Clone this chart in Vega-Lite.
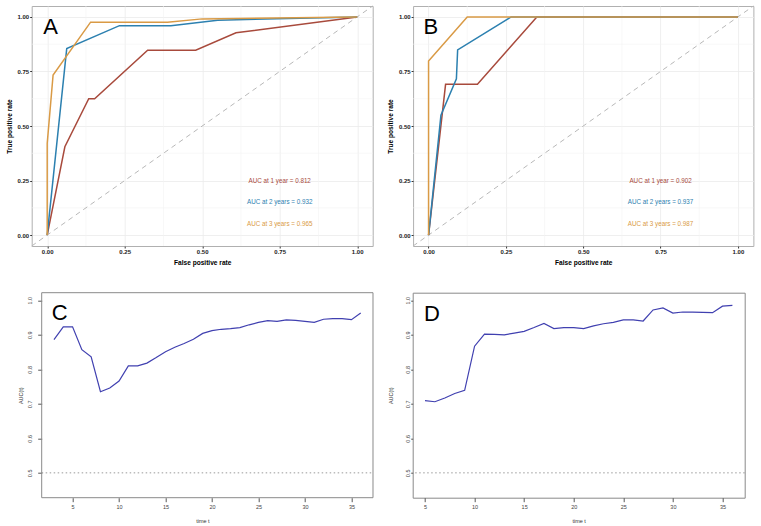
{
  "$schema": "https://vega.github.io/schema/vega-lite/v6.json",
  "padding": {"left": 4.7, "top": 5, "right": 0, "bottom": 0},
  "background": "white",
  "config": {"font": "Liberation Sans", "view": {"stroke": "#b0b0b0", "strokeWidth": 1}},
  "datasets": {
    "rocA": [
      {"s": "1 year", "i": 0, "fpr": 0, "tpr": 0},
      {"s": "1 year", "i": 1, "fpr": 0.057, "tpr": 0.405},
      {"s": "1 year", "i": 2, "fpr": 0.134, "tpr": 0.625},
      {"s": "1 year", "i": 3, "fpr": 0.153, "tpr": 0.625},
      {"s": "1 year", "i": 4, "fpr": 0.324, "tpr": 0.847},
      {"s": "1 year", "i": 5, "fpr": 0.479, "tpr": 0.847},
      {"s": "1 year", "i": 6, "fpr": 0.609, "tpr": 0.927},
      {"s": "1 year", "i": 7, "fpr": 1, "tpr": 1},
      {"s": "2 years", "i": 0, "fpr": 0, "tpr": 0},
      {"s": "2 years", "i": 1, "fpr": 0.063, "tpr": 0.855},
      {"s": "2 years", "i": 2, "fpr": 0.233, "tpr": 0.96},
      {"s": "2 years", "i": 3, "fpr": 0.399, "tpr": 0.96},
      {"s": "2 years", "i": 4, "fpr": 0.55, "tpr": 0.985},
      {"s": "2 years", "i": 5, "fpr": 1, "tpr": 1},
      {"s": "3 years", "i": 0, "fpr": 0, "tpr": 0},
      {"s": "3 years", "i": 1, "fpr": 0, "tpr": 0.42},
      {"s": "3 years", "i": 2, "fpr": 0.019, "tpr": 0.734},
      {"s": "3 years", "i": 3, "fpr": 0.14, "tpr": 0.976},
      {"s": "3 years", "i": 4, "fpr": 0.388, "tpr": 0.976},
      {"s": "3 years", "i": 5, "fpr": 0.5, "tpr": 0.991},
      {"s": "3 years", "i": 6, "fpr": 1, "tpr": 1}
    ],
    "rocB": [
      {"s": "1 year", "i": 0, "fpr": 0, "tpr": 0},
      {"s": "1 year", "i": 1, "fpr": 0.055, "tpr": 0.691},
      {"s": "1 year", "i": 2, "fpr": 0.158, "tpr": 0.691},
      {"s": "1 year", "i": 3, "fpr": 0.35, "tpr": 1},
      {"s": "1 year", "i": 4, "fpr": 1, "tpr": 1},
      {"s": "2 years", "i": 0, "fpr": 0, "tpr": 0},
      {"s": "2 years", "i": 1, "fpr": 0.04, "tpr": 0.55},
      {"s": "2 years", "i": 2, "fpr": 0.09, "tpr": 0.716},
      {"s": "2 years", "i": 3, "fpr": 0.094, "tpr": 0.849},
      {"s": "2 years", "i": 4, "fpr": 0.267, "tpr": 1},
      {"s": "2 years", "i": 5, "fpr": 1, "tpr": 1},
      {"s": "3 years", "i": 0, "fpr": 0, "tpr": 0},
      {"s": "3 years", "i": 1, "fpr": 0, "tpr": 0.798},
      {"s": "3 years", "i": 2, "fpr": 0.125, "tpr": 1},
      {"s": "3 years", "i": 3, "fpr": 1, "tpr": 1}
    ],
    "txtA": [
      {"s": "1 year", "fpr": 0.75, "tpr": 0.25, "label": "AUC at 1 year = 0.812"},
      {"s": "2 years", "fpr": 0.75, "tpr": 0.15, "label": "AUC at 2 years = 0.932"},
      {"s": "3 years", "fpr": 0.75, "tpr": 0.05, "label": "AUC at 3 years = 0.965"}
    ],
    "txtB": [
      {"s": "1 year", "fpr": 0.75, "tpr": 0.25, "label": "AUC at 1 year = 0.902"},
      {"s": "2 years", "fpr": 0.75, "tpr": 0.15, "label": "AUC at 2 years = 0.937"},
      {"s": "3 years", "fpr": 0.75, "tpr": 0.05, "label": "AUC at 3 years = 0.987"}
    ],
    "diag": [{"x": -0.05, "y": -0.05, "x2": 1.05, "y2": 1.05}],
    "minor": [{"v": 0.125}, {"v": 0.375}, {"v": 0.625}, {"v": 0.875}],
    "aucC": [
      {"t": 3, "auc": 0.886}, {"t": 4, "auc": 0.923}, {"t": 5, "auc": 0.923}, {"t": 6, "auc": 0.857},
      {"t": 7, "auc": 0.836}, {"t": 8, "auc": 0.735}, {"t": 9, "auc": 0.746}, {"t": 10, "auc": 0.766},
      {"t": 11, "auc": 0.81}, {"t": 12, "auc": 0.81}, {"t": 13, "auc": 0.818}, {"t": 14, "auc": 0.834},
      {"t": 15, "auc": 0.851}, {"t": 16, "auc": 0.864}, {"t": 17, "auc": 0.875}, {"t": 18, "auc": 0.887},
      {"t": 19, "auc": 0.904}, {"t": 20, "auc": 0.912}, {"t": 21, "auc": 0.916}, {"t": 22, "auc": 0.918},
      {"t": 23, "auc": 0.921}, {"t": 24, "auc": 0.929}, {"t": 25, "auc": 0.936}, {"t": 26, "auc": 0.941},
      {"t": 27, "auc": 0.939}, {"t": 28, "auc": 0.943}, {"t": 29, "auc": 0.942}, {"t": 30, "auc": 0.939},
      {"t": 31, "auc": 0.936}, {"t": 32, "auc": 0.945}, {"t": 33, "auc": 0.947}, {"t": 34, "auc": 0.947},
      {"t": 35, "auc": 0.944}, {"t": 36, "auc": 0.963}
    ],
    "aucD": [
      {"t": 5, "auc": 0.709}, {"t": 6, "auc": 0.706}, {"t": 7, "auc": 0.717}, {"t": 8, "auc": 0.73},
      {"t": 9, "auc": 0.739}, {"t": 10, "auc": 0.867}, {"t": 11, "auc": 0.902}, {"t": 12, "auc": 0.901},
      {"t": 13, "auc": 0.9}, {"t": 14, "auc": 0.905}, {"t": 15, "auc": 0.91}, {"t": 16, "auc": 0.921},
      {"t": 17, "auc": 0.933}, {"t": 18, "auc": 0.918}, {"t": 19, "auc": 0.921}, {"t": 20, "auc": 0.921},
      {"t": 21, "auc": 0.918}, {"t": 22, "auc": 0.926}, {"t": 23, "auc": 0.932}, {"t": 24, "auc": 0.936},
      {"t": 25, "auc": 0.943}, {"t": 26, "auc": 0.943}, {"t": 27, "auc": 0.94}, {"t": 28, "auc": 0.972},
      {"t": 29, "auc": 0.978}, {"t": 30, "auc": 0.963}, {"t": 31, "auc": 0.966}, {"t": 32, "auc": 0.966},
      {"t": 33, "auc": 0.965}, {"t": 34, "auc": 0.964}, {"t": 35, "auc": 0.983}, {"t": 36, "auc": 0.985}
    ],
    "refC": [{"auc": 0.5, "t1": 1.68, "t2": 37.32}],
    "boxC": [{"t1": 1.68, "t2": 37.32, "a1": 0.428, "a2": 1.022}],
    "refD": [{"auc": 0.5}],
    "letA": [{"p": "A", "fpr": -0.013, "tpr": 0.922}],
    "letB": [{"p": "B", "fpr": -0.016, "tpr": 0.922}],
    "letC": [{"p": "C", "t": 2.75, "auc": 0.942}],
    "letD": [{"p": "D", "t": 4.9, "auc": 0.94}]
  },
  "spacing": 24.7,
  "vconcat": [
    {
      "spacing": 12.4,
      "hconcat": [
        {
          "width": 341, "height": 240,
          "layer": [
            {"data": {"name": "minor"}, "mark": {"type": "rule", "color": "#f4f4f4", "strokeWidth": 0.6},
             "encoding": {"x": {"field": "v", "type": "quantitative", "title": "False positive rate", "scale": {"domain": [-0.05, 1.05], "nice": false, "zero": false}}}},
            {"data": {"name": "minor"}, "mark": {"type": "rule", "color": "#f4f4f4", "strokeWidth": 0.6},
             "encoding": {"y": {"field": "v", "type": "quantitative", "title": "True positive rate", "scale": {"domain": [-0.05, 1.05], "nice": false, "zero": false}}}},
            {"data": {"name": "diag"}, "mark": {"type": "rule", "color": "#b8b8b8", "strokeWidth": 1, "strokeDash": [5, 4]},
             "encoding": {"x": {"field": "x", "type": "quantitative", "title": "False positive rate"}, "y": {"field": "y", "type": "quantitative", "title": "True positive rate"}, "x2": {"field": "x2"}, "y2": {"field": "y2"}}},
            {"data": {"name": "rocA"}, "mark": {"type": "line", "strokeWidth": 1.5},
             "encoding": {
               "x": {"field": "fpr", "type": "quantitative", "title": "False positive rate",
                     "axis": {"values": [0, 0.25, 0.5, 0.75, 1], "format": ".2f", "domain": false, "tickSize": 2, "tickColor": "#333", "labelFontWeight": "bold", "labelFontSize": 6, "labelColor": "#1a1a1a", "labelPadding": 0, "titleFontSize": 6.6, "titleFontWeight": "bold", "titleColor": "#000", "titlePadding": 5.5, "gridColor": "#ebebeb", "gridWidth": 0.8, "labelFlush": false}},
               "y": {"field": "tpr", "type": "quantitative", "title": "True positive rate",
                     "axis": {"values": [0, 0.25, 0.5, 0.75, 1], "format": ".2f", "domain": false, "tickSize": 2, "tickColor": "#333", "labelFontWeight": "bold", "labelFontSize": 6, "labelColor": "#1a1a1a", "labelPadding": 1, "titleFontSize": 6.6, "titleFontWeight": "bold", "titleColor": "#000", "titlePadding": 5, "gridColor": "#ebebeb", "gridWidth": 0.8, "labelFlush": false}},
               "color": {"field": "s", "type": "nominal", "legend": null, "scale": {"domain": ["1 year", "2 years", "3 years"], "range": ["#A84A3C", "#2C80B0", "#D99A45"]}},
               "order": {"field": "i", "type": "quantitative"}
             }},
            {"data": {"name": "txtA"}, "mark": {"type": "text", "fontSize": 6.3, "align": "center", "baseline": "middle"},
             "encoding": {"x": {"field": "fpr", "type": "quantitative", "title": "False positive rate"}, "y": {"field": "tpr", "type": "quantitative", "title": "True positive rate"}, "text": {"field": "label"}, "color": {"field": "s", "type": "nominal", "legend": null}}},
            {"data": {"name": "letA"}, "mark": {"type": "text", "fontSize": 22, "align": "left", "baseline": "alphabetic", "color": "#000"},
             "encoding": {"x": {"field": "fpr", "type": "quantitative", "title": "False positive rate"}, "y": {"field": "tpr", "type": "quantitative", "title": "True positive rate"}, "text": {"field": "p"}}}
          ]
        },
        {
          "width": 340.3, "height": 240,
          "layer": [
            {"data": {"name": "minor"}, "mark": {"type": "rule", "color": "#f4f4f4", "strokeWidth": 0.6},
             "encoding": {"x": {"field": "v", "type": "quantitative", "title": "False positive rate", "scale": {"domain": [-0.05, 1.05], "nice": false, "zero": false}}}},
            {"data": {"name": "minor"}, "mark": {"type": "rule", "color": "#f4f4f4", "strokeWidth": 0.6},
             "encoding": {"y": {"field": "v", "type": "quantitative", "title": "True positive rate", "scale": {"domain": [-0.05, 1.05], "nice": false, "zero": false}}}},
            {"data": {"name": "diag"}, "mark": {"type": "rule", "color": "#b8b8b8", "strokeWidth": 1, "strokeDash": [5, 4]},
             "encoding": {"x": {"field": "x", "type": "quantitative", "title": "False positive rate"}, "y": {"field": "y", "type": "quantitative", "title": "True positive rate"}, "x2": {"field": "x2"}, "y2": {"field": "y2"}}},
            {"data": {"name": "rocB"}, "mark": {"type": "line", "strokeWidth": 1.5},
             "encoding": {
               "x": {"field": "fpr", "type": "quantitative", "title": "False positive rate",
                     "axis": {"values": [0, 0.25, 0.5, 0.75, 1], "format": ".2f", "domain": false, "tickSize": 2, "tickColor": "#333", "labelFontWeight": "bold", "labelFontSize": 6, "labelColor": "#1a1a1a", "labelPadding": 0, "titleFontSize": 6.6, "titleFontWeight": "bold", "titleColor": "#000", "titlePadding": 5.5, "gridColor": "#ebebeb", "gridWidth": 0.8, "labelFlush": false}},
               "y": {"field": "tpr", "type": "quantitative", "title": "True positive rate",
                     "axis": {"values": [0, 0.25, 0.5, 0.75, 1], "format": ".2f", "domain": false, "tickSize": 2, "tickColor": "#333", "labelFontWeight": "bold", "labelFontSize": 6, "labelColor": "#1a1a1a", "labelPadding": 1, "titleFontSize": 6.6, "titleFontWeight": "bold", "titleColor": "#000", "titlePadding": 5, "gridColor": "#ebebeb", "gridWidth": 0.8, "labelFlush": false}},
               "color": {"field": "s", "type": "nominal", "legend": null, "scale": {"domain": ["1 year", "2 years", "3 years"], "range": ["#A84A3C", "#2C80B0", "#D99A45"]}},
               "order": {"field": "i", "type": "quantitative"}
             }},
            {"data": {"name": "txtB"}, "mark": {"type": "text", "fontSize": 6.3, "align": "center", "baseline": "middle"},
             "encoding": {"x": {"field": "fpr", "type": "quantitative", "title": "False positive rate"}, "y": {"field": "tpr", "type": "quantitative", "title": "True positive rate"}, "text": {"field": "label"}, "color": {"field": "s", "type": "nominal", "legend": null}}},
            {"data": {"name": "letB"}, "mark": {"type": "text", "fontSize": 22, "align": "left", "baseline": "alphabetic", "color": "#000"},
             "encoding": {"x": {"field": "fpr", "type": "quantitative", "title": "False positive rate"}, "y": {"field": "tpr", "type": "quantitative", "title": "True positive rate"}, "text": {"field": "p"}}}
          ]
        }
      ]
    },
    {
      "spacing": 14,
      "hconcat": [
        {
          "width": 341.3, "height": 205,
          "view": {"stroke": null},
          "layer": [
            {"data": {"name": "refC"}, "mark": {"type": "rule", "color": "#9a9a9a", "strokeWidth": 1, "strokeDash": [1.5, 2.5]},
             "encoding": {"y": {"field": "auc", "type": "quantitative", "title": "AUC(t)", "scale": {"domain": [0.428, 1.022], "nice": false, "zero": false}},
                          "x": {"field": "t1", "type": "quantitative", "title": "time t", "scale": {"domain": [0.604, 37.32], "nice": false, "zero": false}},
                          "x2": {"field": "t2"}}},
            {"data": {"name": "aucC"}, "mark": {"type": "line", "strokeWidth": 1.2, "color": "#4040B0"},
             "encoding": {
               "x": {"field": "t", "type": "quantitative", "title": "time t",
                     "axis": {"values": [5, 10, 15, 20, 25, 30, 35], "grid": false, "domain": false, "tickSize": 4, "tickColor": "#555", "labelFontSize": 5.5, "labelColor": "#444", "labelPadding": 2.5, "titleFontSize": 5.5, "titleFontWeight": "normal", "titleColor": "#333", "titlePadding": 9, "labelFlush": false}},
               "y": {"field": "auc", "type": "quantitative", "title": "AUC(t)",
                     "axis": {"values": [0.5, 0.6, 0.7, 0.8, 0.9, 1.0], "format": ".1f", "grid": false, "domain": false, "offset": -10, "tickSize": 4, "tickColor": "#555", "labelFontSize": 5.5, "labelColor": "#444", "labelAngle": 270, "labelAlign": "center", "labelBaseline": "bottom", "labelPadding": 5.5, "titleFontSize": 5.5, "titleFontWeight": "normal", "titleColor": "#333", "titlePadding": 4, "labelFlush": false}}
             }},
            {"data": {"name": "boxC"}, "mark": {"type": "rect", "filled": false, "color": "#8a8a8a", "strokeWidth": 1},
             "encoding": {"x": {"field": "t1", "type": "quantitative", "title": "time t"}, "x2": {"field": "t2"},
                          "y": {"field": "a1", "type": "quantitative", "title": "AUC(t)"}, "y2": {"field": "a2"}}},
            {"data": {"name": "letC"}, "mark": {"type": "text", "fontSize": 22, "align": "left", "baseline": "alphabetic", "color": "#000"},
             "encoding": {"x": {"field": "t", "type": "quantitative", "title": "time t"}, "y": {"field": "auc", "type": "quantitative", "title": "AUC(t)"}, "text": {"field": "p"}}}
          ]
        },
        {
          "width": 332, "height": 205,
          "view": {"stroke": "#8a8a8a", "strokeWidth": 1},
          "layer": [
            {"data": {"name": "refD"}, "mark": {"type": "rule", "color": "#9a9a9a", "strokeWidth": 1, "strokeDash": [1.5, 2.5]},
             "encoding": {"y": {"field": "auc", "type": "quantitative", "title": "AUC(t)", "scale": {"domain": [0.428, 1.022], "nice": false, "zero": false}}}},
            {"data": {"name": "aucD"}, "mark": {"type": "line", "strokeWidth": 1.2, "color": "#4040B0"},
             "encoding": {
               "x": {"field": "t", "type": "quantitative", "title": "time t", "scale": {"domain": [3.76, 37.24], "nice": false, "zero": false},
                     "axis": {"values": [5, 10, 15, 20, 25, 30, 35], "grid": false, "domain": false, "tickSize": 4, "tickColor": "#555", "labelFontSize": 5.5, "labelColor": "#444", "labelPadding": 2.5, "titleFontSize": 5.5, "titleFontWeight": "normal", "titleColor": "#333", "titlePadding": 9, "labelFlush": false}},
               "y": {"field": "auc", "type": "quantitative", "title": "AUC(t)",
                     "axis": {"values": [0.5, 0.6, 0.7, 0.8, 0.9, 1.0], "format": ".1f", "grid": false, "domain": false, "tickSize": 2, "tickColor": "#555", "labelFontSize": 5.5, "labelColor": "#444", "labelAngle": 270, "labelAlign": "center", "labelBaseline": "bottom", "labelPadding": 0.5, "titleFontSize": 5.5, "titleFontWeight": "normal", "titleColor": "#333", "titlePadding": 11.5, "labelFlush": false}}
             }},
            {"data": {"name": "letD"}, "mark": {"type": "text", "fontSize": 22, "align": "left", "baseline": "alphabetic", "color": "#000"},
             "encoding": {"x": {"field": "t", "type": "quantitative", "title": "time t"}, "y": {"field": "auc", "type": "quantitative", "title": "AUC(t)"}, "text": {"field": "p"}}}
          ]
        }
      ]
    }
  ]
}
